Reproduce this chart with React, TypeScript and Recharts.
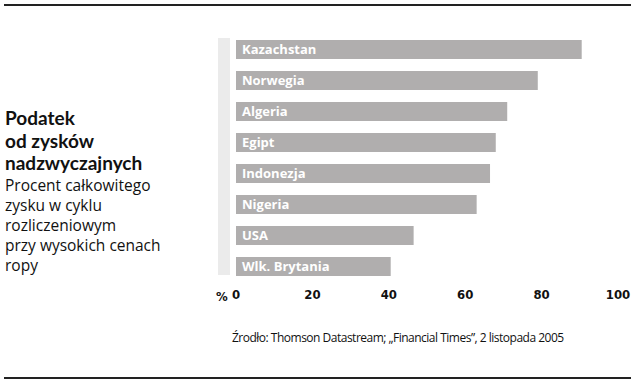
import { BarChart, Bar, XAxis, YAxis, LabelList } from 'recharts';

const countries = ['Kazachstan', 'Norwegia', 'Algeria', 'Egipt', 'Indonezja', 'Nigeria', 'USA', 'Wlk. Brytania'];
const taxShare = [90.5, 79, 71, 68, 66.5, 63, 46.5, 40.5];
const xTicks = [0, 20, 40, 60, 80, 100];

const data = countries.map((name, i) => ({ name, value: taxShare[i] }));

const sans = '"Open Sans", "Noto Sans", sans-serif';
const narrow = '"Liberation Sans Narrow", "DejaVu Sans Condensed", sans-serif';

export default function App() {
  return (
    <div style={{ position: 'absolute', left: 0, top: 0, width: 636, height: 384, background: '#fff', fontFamily: sans }}>
      <div style={{ position: 'absolute', left: 4, top: 4, width: 627, height: 2, background: '#222' }} />
      <div style={{ position: 'absolute', left: 4, top: 377, width: 627, height: 2, background: '#222' }} />

      <div style={{ position: 'absolute', left: 5, top: 107, color: '#111' }}>
        <div style={{ fontSize: 19, fontWeight: 700, lineHeight: '22.5px', fontFamily: 'Lato, sans-serif' }}>
          Podatek<br />od zysków<br />nadzwyczajnych
        </div>
        <div style={{ fontSize: 15.5, lineHeight: '20px' }}>
          Procent całkowitego<br />zysku w cyklu<br />rozliczeniowym<br />przy wysokich cenach<br />ropy
        </div>
      </div>

      {/* pale strip left of the bars */}
      <div style={{ position: 'absolute', left: 218, top: 38, width: 12, height: 237, background: '#ebebeb' }} />

      <BarChart
        width={636}
        height={384}
        data={data}
        layout="vertical"
        margin={{ top: 34, right: 18, bottom: 72, left: 236 }}
        barSize={19}
        style={{ position: 'absolute', left: 0, top: 0 }}
      >
        <XAxis
          type="number"
          domain={[0, 100]}
          ticks={xTicks}
          height={30}
          axisLine={false}
          tickLine={false}
          interval={0}
          tick={{ fill: '#111', fontSize: 13, fontWeight: 700, fontFamily: narrow }}
        />
        <YAxis type="category" dataKey="name" hide />
        <Bar dataKey="value" fill="#b0aeae" isAnimationActive={false}>
          <LabelList
            dataKey="name"
            position="insideLeft"
            offset={6}
            fill="#fff"
            style={{ fontSize: 13, fontWeight: 700, fontFamily: sans }}
          />
        </Bar>
      </BarChart>

      <div style={{ position: 'absolute', left: 216, top: 289, fontSize: 13, fontWeight: 700, fontFamily: narrow, color: '#111' }}>%</div>

      <div style={{ position: 'absolute', left: 232, top: 329, fontSize: 12, letterSpacing: -0.5, color: '#111', whiteSpace: 'nowrap' }}>
        Źrodło: Thomson Datastream; „Financial Times”, 2 listopada 2005
      </div>
    </div>
  );
}
